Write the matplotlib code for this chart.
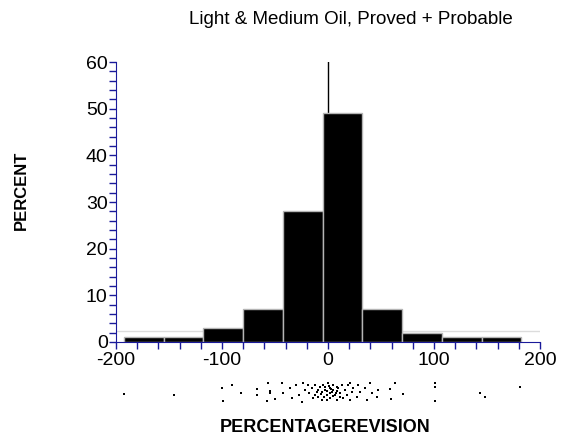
import numpy as np
import matplotlib
matplotlib.use("Agg")
import matplotlib.pyplot as plt
from matplotlib.ticker import MultipleLocator

plt.rcParams['font.family'] = ['Liberation Sans', 'DejaVu Sans']
plt.rcParams['axes.unicode_minus'] = False

# histogram bins (percentage revision) and percent of wells
bin_edges = [-192.5, -155, -117.5, -80, -42.5, -5, 32.5, 70, 107.5, 145, 182.5]
percent = [1, 1, 3, 7, 28, 49, 7, 2, 1, 1]

# reference line level and median marker
ref_level = 2.3
median_x = 0

# raw revisions shown as a jittered dot strip below the axis
dots_x = [-192.5, -145.3, -100.0, -90.3, -82.1, -98.8,
          -56.3, -43.1, -67.3, -67.3, -54.7, -54.7, -57.2, -50.0, -42.2, -35.9,
          -34.3, -30.2, -27.1, -24.9, -23.3, -21.7, -18.6, -17.6, -15.4, -13.9,
          -12.3, -10.7, -9.1, -7.6, -6.0, -4.4, -2.9, -1.3, 0.3, 1.9, 1.9, 3.4,
          5.0, 6.6, 8.2, 9.7, 11.3, 12.9, 14.4, 16.0, 17.6, 19.2, 20.7, 22.3,
          23.9, 27.0, 28.6, 30.2, 34.9, 36.5, 39.6, 41.2, 45.9, 47.5, 20.7,
          -6.0, -1.3, 5.0, 8.2, 11.3, 1.9, -2.9, -9.1, -12.3,
          -0.6, 4.4, 1.2, 7.5, -3.8, -6.9, 8.8, 3.1,
          63.2, 58.5, 70.5, 59.2, 101.0, 101.0, 101.0, 143.4, 148.1, 181.0]
dots_y = [19, 19.7, 12.7, 10, 17.7, 25.7,
          7.7, 7.7, 14, 20, 15.7, 18.3, 25.7, 24.3, 17.7, 13.3,
          23.3, 10, 20, 26.7, 7.7, 15, 10, 18.3, 13.3, 23.3,
          10, 16.7, 21.7, 11.7, 25, 10, 15, 20, 8.3, 13.3, 23.3, 16.7,
          10, 20, 25, 13.3, 18.3, 10, 23.3, 15, 20, 10, 25, 16.7,
          13.3, 21.7, 10, 16.7, 13.3, 25, 8.3, 18.3, 21.7, 15, 8.3,
          16.7, 25, 15, 11.7, 21.7, 18.3, 11.7, 15, 20,
          15.7, 21, 11, 17.7, 22.3, 19, 15.7, 14.3,
          7.7, 14.3, 19, 24.3, 7.7, 12.3, 25.7, 17.7, 21.7, 11.7]

title = "Light & Medium Oil, Proved + Probable"
axis_col = "#1a1a9a"

fig = plt.figure(figsize=(5.63, 4.43), dpi=100)
ax = fig.add_axes([0.206, 0.228, 0.753, 0.632])

ax.plot([-200, 200], [ref_level, ref_level], color="#dcdcdc", lw=1, zorder=1)
ax.plot([median_x, median_x], [0, 60], color="black", lw=1, zorder=1)
ax.bar(bin_edges[:-1], percent, width=np.diff(bin_edges), align='edge',
       color="black", edgecolor="#b4b4b4", linewidth=1, zorder=2)

ax.set_xlim(-200, 200)
ax.set_ylim(0, 60)
ax.xaxis.set_major_locator(MultipleLocator(100))
ax.xaxis.set_minor_locator(MultipleLocator(20))
ax.yaxis.set_major_locator(MultipleLocator(10))
ax.yaxis.set_minor_locator(MultipleLocator(2))
ax.tick_params(which='both', colors=axis_col, labelcolor='black', labelsize=14,
               length=5, width=1, direction='out')
ax.tick_params(axis='y', pad=1)
ax.tick_params(axis='x', pad=2)
for s in ['top', 'right']:
    ax.spines[s].set_visible(False)
for s in ['left', 'bottom']:
    ax.spines[s].set_color(axis_col)

fig.text(0.624, 0.957, title, ha='center', va='center', fontsize=13.5)
fig.text(0.038, 0.571, "PERCENT", rotation=90, ha='center', va='center',
         fontsize=12, fontweight='bold')
fig.text(0.577, 0.034, "PERCENTAGEREVISION", ha='center', va='center',
         fontsize=13, fontweight='bold')

# dot strip
ax2 = fig.add_axes([0.206, 0.09, 0.753, 0.063])
ax2.scatter(dots_x, dots_y, s=3.5, marker='s', color='black', linewidths=0)
ax2.set_xlim(-200, 200)
ax2.set_ylim(28, 0)
ax2.axis('off')

plt.savefig("out.png", dpi=100)
